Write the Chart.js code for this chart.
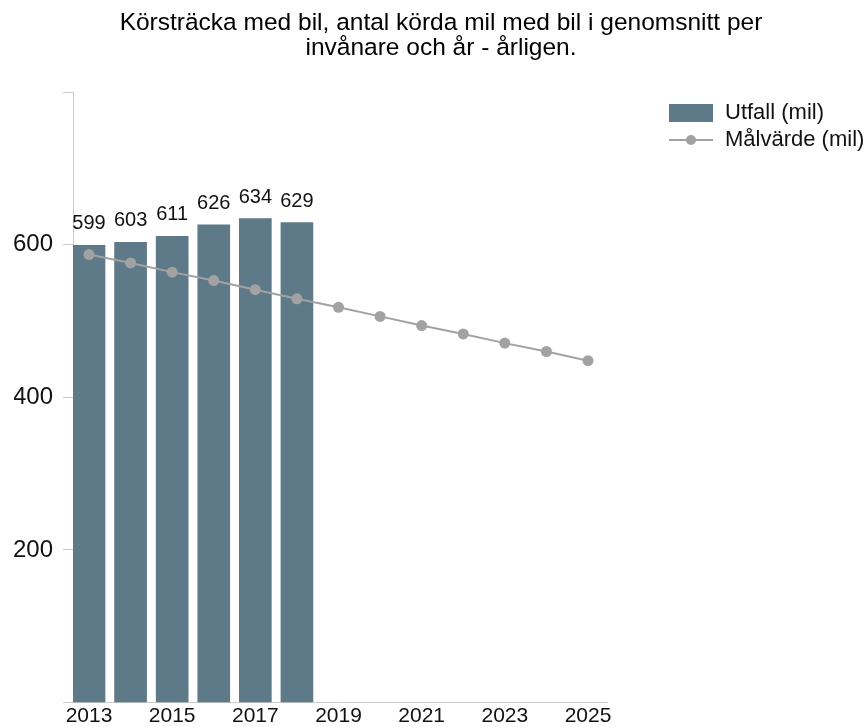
<!DOCTYPE html>
<html lang="sv">
<head>
    <meta charset="UTF-8">
    <title>Körsträcka med bil</title>
    <script src="https://cdn.jsdelivr.net/npm/chart.js"></script>
    <style>
        body {
            margin: 0;
            padding: 0;
            background-color: #fff;
        }
        #chart {
            display: block;
        }
    </style>
</head>
<body>
<canvas id="chart" width="868" height="727"></canvas>

<script>
    // Chart data
    const years = [2013, 2014, 2015, 2016, 2017, 2018, 2019, 2020, 2021, 2022, 2023, 2024, 2025];
    const utfall = [599, 603, 611, 626, 634, 629]; // 2013-2018
    const malvarde = [587, 576, 564, 553, 541, 529, 518, 506, 494, 483, 471, 460, 448];
    const xTickLabels = [2013, 2015, 2017, 2019, 2021, 2023, 2025];
    const yTickLabels = [200, 400, 600];

    const titleLines = ['Körsträcka med bil, antal körda mil med bil i genomsnitt per', 'invånare och år - årligen.'];
    const seriesNames = ['Utfall (mil)', 'Målvärde (mil)'];

    const fontFamily = '"Liberation Sans", Arial, sans-serif';
    const barColor = '#5e7987';
    const lineColor = '#a2a2a2';
    const axisColor = '#cccccc';
    const textColor = '#111111';

    // Value labels above the bars
    const barLabels = {
        id: 'barLabels',
        afterDatasetsDraw(chart) {
            const ctx = chart.ctx;
            const meta = chart.getDatasetMeta(1);
            ctx.save();
            ctx.font = '20px ' + fontFamily;
            ctx.fillStyle = textColor;
            ctx.textAlign = 'center';
            ctx.textBaseline = 'alphabetic';
            meta.data.forEach((bar, i) => {
                ctx.fillText(String(utfall[i]), bar.x, bar.y - 16);
            });
            ctx.restore();
        }
    };

    // Legend at the top right
    const sideLegend = {
        id: 'sideLegend',
        afterDraw(chart) {
            const ctx = chart.ctx;
            const x = chart.chartArea.right + 62;
            ctx.save();
            ctx.fillStyle = barColor;
            ctx.fillRect(x, 104, 44, 18);

            ctx.strokeStyle = lineColor;
            ctx.lineWidth = 2;
            ctx.beginPath();
            ctx.moveTo(x, 140);
            ctx.lineTo(x + 44, 140);
            ctx.stroke();
            ctx.fillStyle = lineColor;
            ctx.beginPath();
            ctx.arc(x + 22, 140, 5, 0, Math.PI * 2);
            ctx.fill();

            ctx.font = '22px ' + fontFamily;
            ctx.fillStyle = textColor;
            ctx.textAlign = 'left';
            ctx.textBaseline = 'middle';
            ctx.fillText(seriesNames[0], x + 56, 113);
            ctx.fillText(seriesNames[1], x + 56, 140);
            ctx.restore();
        }
    };

    const ctx = document.getElementById('chart').getContext('2d');
    const chart = new Chart(ctx, {
        type: 'bar',
        data: {
            datasets: [
                {
                    type: 'line',
                    label: seriesNames[1],
                    data: years.map((y, i) => ({ x: y, y: malvarde[i] })),
                    borderColor: lineColor,
                    borderWidth: 2,
                    backgroundColor: lineColor,
                    pointBackgroundColor: lineColor,
                    pointBorderWidth: 0,
                    pointRadius: 5.5,
                    tension: 0,
                    order: 1
                },
                {
                    type: 'bar',
                    label: seriesNames[0],
                    data: utfall.map((v, i) => ({ x: years[i], y: v })),
                    backgroundColor: barColor,
                    barThickness: 32,
                    order: 2
                }
            ]
        },
        options: {
            responsive: false,
            animation: false,
            devicePixelRatio: 1,
            layout: {
                padding: { left: 14, right: 0, top: 0, bottom: 0 }
            },
            plugins: {
                legend: { display: false },
                tooltip: { enabled: false },
                title: {
                    display: true,
                    text: titleLines,
                    color: '#000',
                    font: { family: fontFamily, size: 24.5, weight: 'normal', lineHeight: 1.0 },
                    padding: { top: 11, bottom: 32 }
                }
            },
            scales: {
                x: {
                    type: 'linear',
                    offset: false,
                    min: 2012.615,
                    max: 2025.457,
                    afterBuildTicks: (scale) => {
                        scale.ticks = xTickLabels.map(v => ({ value: v }));
                    },
                    afterFit: (scale) => { scale.height = 24; },
                    grid: { display: false, drawTicks: false, offset: false },
                    border: { display: true, color: axisColor, width: 1 },
                    ticks: {
                        padding: 1,
                        color: textColor,
                        font: { family: fontFamily, size: 21 },
                        maxRotation: 0,
                        callback: (v) => String(v)
                    }
                },
                y: {
                    min: 0,
                    max: 800,
                    afterBuildTicks: (scale) => {
                        scale.ticks = [0, 200, 400, 600, 800].map(v => ({ value: v }));
                    },
                    afterFit: (scale) => { scale.width = 59; },
                    grid: {
                        drawOnChartArea: false,
                        drawTicks: true,
                        tickLength: 10,
                        color: axisColor
                    },
                    border: { display: true, color: axisColor, width: 1 },
                    ticks: {
                        padding: 10,
                        color: textColor,
                        font: { family: fontFamily, size: 24 },
                        callback: (v) => yTickLabels.includes(v) ? String(v) : ''
                    }
                },
                // empty space on the right for the legend
                legendSpace: {
                    axis: 'y',
                    position: 'right',
                    min: 0,
                    max: 800,
                    afterFit: (scale) => { scale.width = 261; },
                    grid: { display: false, drawTicks: false },
                    border: { display: false },
                    ticks: { display: false }
                }
            }
        },
        plugins: [barLabels, sideLegend]
    });
</script>
</body>
</html>
